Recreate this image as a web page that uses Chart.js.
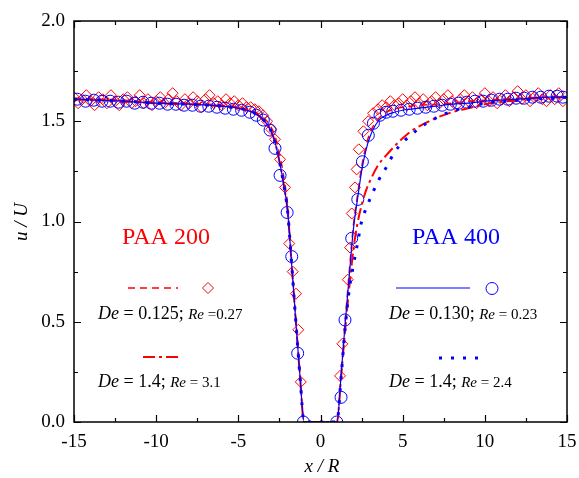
<!DOCTYPE html>
<html>
<head>
<meta charset="utf-8">
<script src="https://cdn.jsdelivr.net/npm/chart.js@4.4.1/dist/chart.umd.min.js"></script>
<style>
  html, body { margin: 0; padding: 0; background: #fff; }
  #wrap { width: 579px; height: 478px; }
</style>
</head>
<body>
<div id="wrap"><canvas id="c"></canvas></div>
<script>
// Axis ticks
const xTicks = [-15, -10, -5, 0, 5, 10, 15];
const yTicks = [0.0, 0.5, 1.0, 1.5, 2.0];

// Simulation profiles, x/R positions
const xSim = [-15, -12, -10, -8, -6, -5, -4.5, -4, -3.5, -3, -2.75, -2.5, -2.25, -2, -1.75, -1.5, -1.25, -1,
              0, 1, 1.25, 1.5, 1.75, 2, 2.25, 2.5, 2.75, 3, 3.5, 4, 4.5, 5, 5.5, 6, 7, 8, 9, 10, 12, 14, 15];

// PAA 200, De = 0.125 (dashed)
const uPaa200Low = [1.615, 1.605, 1.595, 1.59, 1.58, 1.57, 1.56, 1.545, 1.52, 1.47, 1.42, 1.34, 1.23, 1.08, 0.80, 0.52, 0.25, 0,
                    0, 0, 0.24, 0.50, 0.75, 0.98, 1.13, 1.27, 1.37, 1.44, 1.51, 1.545, 1.56, 1.57, 1.575, 1.58, 1.585, 1.59, 1.60, 1.605, 1.615, 1.62, 1.62];
// PAA 400, De = 0.130 (solid)
const uPaa400Low = [1.61, 1.60, 1.59, 1.585, 1.575, 1.565, 1.555, 1.54, 1.51, 1.45, 1.39, 1.30, 1.19, 1.05, 0.78, 0.50, 0.23, 0,
                    0, 0, 0.23, 0.49, 0.73, 0.96, 1.11, 1.25, 1.35, 1.42, 1.50, 1.53, 1.545, 1.555, 1.56, 1.565, 1.575, 1.585, 1.59, 1.60, 1.61, 1.62, 1.62];
// PAA 200, De = 1.4 (dash-dot)
const uPaa200High = [1.61, 1.60, 1.59, 1.585, 1.575, 1.565, 1.555, 1.54, 1.51, 1.45, 1.39, 1.30, 1.19, 1.05, 0.78, 0.50, 0.23, 0,
                     0, 0, 0.22, 0.46, 0.67, 0.86, 0.99, 1.08, 1.15, 1.20, 1.28, 1.33, 1.375, 1.415, 1.45, 1.475, 1.515, 1.545, 1.565, 1.585, 1.605, 1.62, 1.62];
// PAA 400, De = 1.4 (dotted)
const uPaa400High = [1.61, 1.60, 1.59, 1.585, 1.575, 1.565, 1.555, 1.54, 1.51, 1.45, 1.39, 1.30, 1.19, 1.05, 0.78, 0.50, 0.23, 0,
                     0, 0, 0.22, 0.47, 0.66, 0.78, 0.89, 1.00, 1.06, 1.11, 1.20, 1.27, 1.345, 1.395, 1.43, 1.465, 1.515, 1.55, 1.57, 1.59, 1.605, 1.615, 1.62];

// PAA 200 measurements (diamonds)
const xExp200 = [-15, -14.75, -14.5, -14.25, -14, -13.75, -13.5, -13.25, -13, -12.75, -12.5, -12.25, -12, -11.75, -11.5, -11.25,
                 -11, -10.75, -10.5, -10.25, -10, -9.75, -9.5, -9.25, -9, -8.75, -8.5, -8.25, -8, -7.75, -7.5, -7.25,
                 -7, -6.75, -6.5, -6.25, -6, -5.75, -5.5, -5.25, -5, -4.75, -4.5, -4.25, -4, -3.75, -3.5, -3.25,
                 -3.0, -2.77, -2.46, -2.16, -1.9, -1.69, -1.49, -1.35, -1.2,
                 1.19, 1.33, 1.66, 1.8, 1.9, 2.1, 2.2, 2.33, 2.61, 2.9, 3.2, 3.5, 3.75,
                 4, 4.25, 4.5, 4.75, 5, 5.25, 5.5, 5.75, 6, 6.25, 6.5, 6.75, 7, 7.25, 7.5, 7.75,
                 8, 8.25, 8.5, 8.75, 9, 9.25, 9.5, 9.75, 10, 10.25, 10.5, 10.75, 11, 11.25, 11.5, 11.75,
                 12, 12.25, 12.5, 12.75, 13, 13.25, 13.5, 13.75, 14, 14.25, 14.5, 14.75];
const uExp200 = [1.62, 1.59, 1.61, 1.63, 1.60, 1.58, 1.62, 1.61, 1.59, 1.63, 1.60, 1.58, 1.61, 1.62, 1.59, 1.60,
                 1.63, 1.59, 1.61, 1.58, 1.60, 1.62, 1.59, 1.61, 1.64, 1.60, 1.58, 1.61, 1.59, 1.62, 1.60, 1.57,
                 1.61, 1.63, 1.59, 1.60, 1.58, 1.61, 1.59, 1.60, 1.58, 1.59, 1.57, 1.57, 1.56, 1.55, 1.53, 1.50,
                 1.46, 1.41, 1.31, 1.17, 0.89, 0.75, 0.64, 0.46, 0.20,
                 0.23, 0.39, 0.71, 0.87, 1.04, 1.17, 1.26, 1.36, 1.45, 1.50, 1.54, 1.56, 1.58,
                 1.57, 1.60, 1.58, 1.59, 1.61, 1.58, 1.60, 1.62, 1.59, 1.61, 1.58, 1.60, 1.62, 1.59, 1.61, 1.63,
                 1.60, 1.58, 1.61, 1.63, 1.60, 1.62, 1.59, 1.61, 1.64, 1.60, 1.62, 1.59, 1.61, 1.63, 1.60, 1.62,
                 1.65, 1.61, 1.63, 1.60, 1.62, 1.64, 1.61, 1.60, 1.63, 1.61, 1.64, 1.60];

// PAA 400 measurements (circles)
const xExp400 = [-14.8, -14.3, -13.8, -13.3, -12.8, -12.3, -11.8, -11.3, -10.8, -10.3, -9.8, -9.3, -8.8, -8.3, -7.8, -7.3,
                 -6.8, -6.3, -5.8, -5.3, -4.8, -4.3, -3.9, -3.48, -3.07, -2.77, -2.46, -2.03, -1.75, -1.39, -1.04,
                 0.99, 1.25, 1.49, 1.9, 2.27, 2.55, 2.91, 3.22, 3.62, 4.0, 4.4, 4.9, 5.4, 5.9, 6.4, 6.9, 7.4, 7.9,
                 8.4, 8.9, 9.4, 9.9, 10.4, 10.9, 11.4, 11.9, 12.4, 12.9, 13.4, 13.9, 14.4, 14.75];
const uExp400 = [1.61, 1.60, 1.605, 1.60, 1.60, 1.595, 1.60, 1.59, 1.595, 1.59, 1.59, 1.585, 1.585, 1.58, 1.58, 1.575,
                 1.575, 1.57, 1.565, 1.56, 1.555, 1.545, 1.53, 1.506, 1.456, 1.365, 1.23, 1.045, 0.825, 0.343, 0.0,
                 0.0, 0.123, 0.509, 0.916, 1.11, 1.298, 1.43, 1.49, 1.53, 1.545, 1.55, 1.555, 1.56, 1.565, 1.57, 1.575, 1.58, 1.585,
                 1.59, 1.595, 1.60, 1.60, 1.605, 1.61, 1.61, 1.615, 1.615, 1.62, 1.62, 1.625, 1.625, 1.62];

const RED = '#ff0000';
const BLUE = '#0000ff';
const SERIF = '"Liberation Serif", "Times New Roman", serif';

function pts(xs, ys) { return xs.map((x, i) => ({ x: x, y: ys[i] })); }

// Frame with inward major/minor ticks on all four sides
const framePlugin = {
  id: 'frame',
  afterDatasetsDraw(chart) {
    const { ctx, chartArea: a, scales: { x, y } } = chart;
    ctx.save();
    ctx.strokeStyle = '#000';
    ctx.lineWidth = 1.5;
    ctx.strokeRect(a.left, a.top, a.right - a.left, a.bottom - a.top);
    ctx.lineWidth = 1.2;
    ctx.beginPath();
    for (let v = -15; v <= 15.001; v += 2.5) {
      const px = Math.round(x.getPixelForValue(v)) + 0.5;
      const len = Math.abs(v % 5) < 1e-6 ? 7 : 4;
      ctx.moveTo(px, a.bottom); ctx.lineTo(px, a.bottom - len);
      ctx.moveTo(px, a.top); ctx.lineTo(px, a.top + len);
    }
    for (let v = 0; v <= 2.0001; v += 0.25) {
      const py = Math.round(y.getPixelForValue(v)) + 0.5;
      const len = Math.abs((v * 2) % 1) < 1e-6 ? 7 : 4;
      ctx.moveTo(a.left, py); ctx.lineTo(a.left + len, py);
      ctx.moveTo(a.right, py); ctx.lineTo(a.right - len, py);
    }
    ctx.stroke();
    ctx.restore();
  }
};

// Run of text made of differently styled pieces
function richText(ctx, x, y, parts, color) {
  ctx.fillStyle = color;
  ctx.textBaseline = 'alphabetic';
  ctx.textAlign = 'left';
  let cx = x;
  parts.forEach(p => {
    ctx.font = p[1];
    ctx.fillText(p[0], cx, y);
    cx += ctx.measureText(p[0]).width;
  });
}

function sampleLine(ctx, x1, x2, y, color, width, dash) {
  ctx.save();
  ctx.strokeStyle = color;
  ctx.lineWidth = width;
  ctx.setLineDash(dash);
  ctx.beginPath();
  ctx.moveTo(x1, y); ctx.lineTo(x2, y);
  ctx.stroke();
  ctx.restore();
}

// Legend blocks and axis titles
const notesPlugin = {
  id: 'notes',
  afterDraw(chart) {
    const ctx = chart.ctx;
    ctx.save();
    ctx.font = '24px ' + SERIF;
    ctx.textAlign = 'center';
    ctx.textBaseline = 'middle';
    ctx.fillStyle = RED;
    ctx.fillText('PAA 200', 166, 238);
    ctx.fillStyle = BLUE;
    ctx.fillText('PAA 400', 456, 238);

    sampleLine(ctx, 128, 178, 288, RED, 1.5, [7, 5]);
    ctx.strokeStyle = RED; ctx.lineWidth = 1;
    ctx.beginPath();
    ctx.moveTo(208, 282.5); ctx.lineTo(213.5, 288); ctx.lineTo(208, 293.5); ctx.lineTo(202.5, 288); ctx.closePath();
    ctx.stroke();

    sampleLine(ctx, 396, 470, 288, BLUE, 1.2, []);
    ctx.strokeStyle = BLUE; ctx.lineWidth = 1;
    ctx.beginPath(); ctx.arc(492, 288.5, 6, 0, Math.PI * 2); ctx.stroke();

    sampleLine(ctx, 143, 182, 357, RED, 2, [12, 4, 3, 4]);
    sampleLine(ctx, 439, 482, 358, BLUE, 3, [3, 9]);

    const it = 'italic 18px ' + SERIF, rg = '18px ' + SERIF;
    const its = 'italic 15px ' + SERIF, rgs = '15px ' + SERIF;
    richText(ctx, 98, 319, [['De', it], [' = 0.125; ', rg], ['Re', its], [' =0.27', rgs]], '#000');
    richText(ctx, 98, 387, [['De', it], [' = 1.4; ', rg], ['Re', its], [' = 3.1', rgs]], '#000');
    richText(ctx, 389, 319, [['De', it], [' = 0.130; ', rg], ['Re', its], [' = 0.23', rgs]], '#000');
    richText(ctx, 389, 387, [['De', it], [' = 1.4; ', rg], ['Re', its], [' = 2.4', rgs]], '#000');

    ctx.fillStyle = '#000';
    ctx.font = 'italic 19px ' + SERIF;
    ctx.textAlign = 'center';
    ctx.textBaseline = 'middle';
    ctx.fillText('x / R', 322, 467);
    ctx.translate(22, 222);
    ctx.rotate(-Math.PI / 2);
    ctx.fillText('u / U', 0, 0);
    ctx.restore();
  }
};

new Chart(document.getElementById('c'), {
  type: 'scatter',
  data: {
    datasets: [
      { label: 'PAA 200 De=0.125 exp', data: pts(xExp200, uExp200), pointStyle: 'rectRot', pointRadius: 5.5,
        borderColor: RED, backgroundColor: 'rgba(0,0,0,0)', borderWidth: 1, showLine: false, order: 6 },
      { label: 'PAA 400 De=0.130 exp', data: pts(xExp400, uExp400), pointStyle: 'circle', pointRadius: 6,
        borderColor: BLUE, backgroundColor: 'rgba(0,0,0,0)', borderWidth: 1, showLine: false, order: 5 },
      { label: 'PAA 200 De=0.125', data: pts(xSim, uPaa200Low), showLine: true, pointRadius: 0,
        borderColor: RED, borderWidth: 1.5, borderDash: [7, 5], cubicInterpolationMode: 'monotone', order: 4 },
      { label: 'PAA 200 De=1.4', data: pts(xSim, uPaa200High), showLine: true, pointRadius: 0,
        borderColor: RED, borderWidth: 2, borderDash: [12, 4, 3, 4], cubicInterpolationMode: 'monotone', order: 3 },
      { label: 'PAA 400 De=1.4', data: pts(xSim, uPaa400High), showLine: true, pointRadius: 0,
        borderColor: BLUE, borderWidth: 3, borderDash: [3, 9], cubicInterpolationMode: 'monotone', order: 2 },
      { label: 'PAA 400 De=0.130', data: pts(xSim, uPaa400Low), showLine: true, pointRadius: 0,
        borderColor: BLUE, borderWidth: 1.2, cubicInterpolationMode: 'monotone', order: 1 }
    ]
  },
  options: {
    responsive: true,
    maintainAspectRatio: false,
    animation: false,
    layout: { padding: { top: 21, right: 12, left: 0, bottom: 0 } },
    plugins: { legend: { display: false }, tooltip: { enabled: false } },
    scales: {
      x: {
        type: 'linear', min: -15, max: 15,
        afterBuildTicks: s => { s.ticks = xTicks.map(v => ({ value: v })); },
        afterFit: s => { s.height = 56; s.paddingLeft = 0; s.paddingRight = 0; },
        grid: { display: false, drawTicks: false },
        border: { display: false },
        ticks: { padding: 9, color: '#000', font: { family: SERIF, size: 19 }, callback: v => String(v) }
      },
      y: {
        type: 'linear', min: 0, max: 2,
        afterBuildTicks: s => { s.ticks = yTicks.map(v => ({ value: v })); },
        afterFit: s => { s.width = 74; s.paddingTop = 0; s.paddingBottom = 0; },
        grid: { display: false, drawTicks: false },
        border: { display: false },
        ticks: { padding: 9, color: '#000', font: { family: SERIF, size: 19 }, callback: v => Number(v).toFixed(1) }
      }
    }
  },
  plugins: [framePlugin, notesPlugin]
});
</script>
</body>
</html>
